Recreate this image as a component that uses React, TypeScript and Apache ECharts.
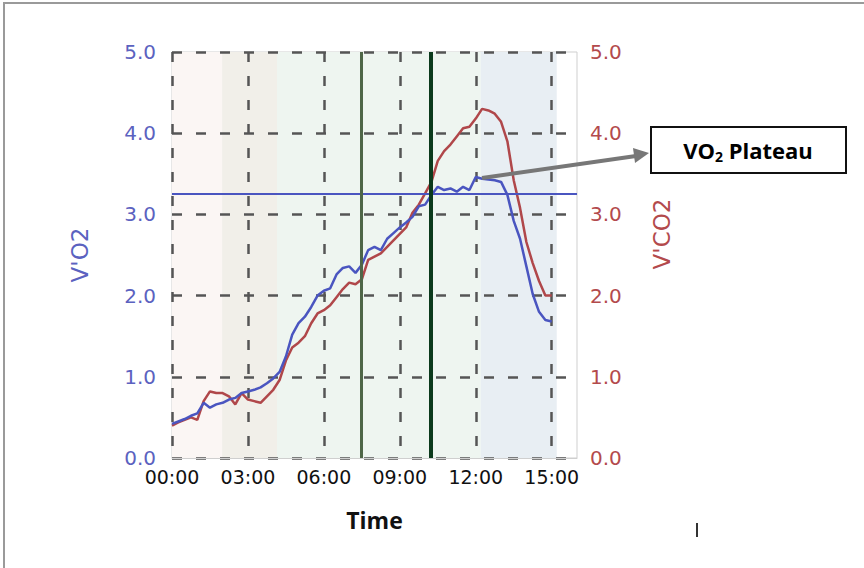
import React, { useEffect, useRef } from "react";
import * as echarts from "echarts";

// time in minutes
const times = [
  0, 0.25, 0.5, 0.75, 1, 1.25, 1.5, 1.75, 2, 2.25, 2.5, 2.75, 3, 3.25, 3.5, 3.75,
  4, 4.25, 4.5, 4.75, 5, 5.25, 5.5, 5.75, 6, 6.25, 6.5, 6.75, 7, 7.25, 7.5, 7.75,
  8, 8.25, 8.5, 8.75, 9, 9.25, 9.5, 9.75, 10, 10.25, 10.5, 10.75, 11, 11.25, 11.5, 11.75,
  12, 12.25, 12.5, 12.75, 13, 13.25, 13.5, 13.75, 14, 14.25, 14.5, 14.75, 15,
];
const vo2 = [
  0.42, 0.45, 0.48, 0.52, 0.55, 0.68, 0.62, 0.66, 0.68, 0.72, 0.74, 0.8, 0.82, 0.84, 0.87, 0.92,
  0.98, 1.06, 1.25, 1.52, 1.66, 1.74, 1.86, 2.0, 2.06, 2.09, 2.26, 2.34, 2.36, 2.28, 2.38, 2.56,
  2.6, 2.56, 2.7, 2.77, 2.84, 2.9, 2.97, 3.1, 3.12, 3.24, 3.34, 3.3, 3.32, 3.28, 3.34, 3.3,
  3.46, 3.44, 3.43, 3.42, 3.4, 3.24, 2.92, 2.7, 2.36, 2.02, 1.8, 1.7, 1.68,
];
const vco2 = [
  0.4, 0.44, 0.47, 0.5, 0.47, 0.7, 0.82, 0.8, 0.8, 0.76, 0.66, 0.8, 0.72, 0.7, 0.68, 0.76,
  0.84, 0.96, 1.2, 1.36, 1.42, 1.5, 1.66, 1.78, 1.82, 1.88, 1.98, 2.08, 2.16, 2.14, 2.2, 2.44,
  2.48, 2.52, 2.6, 2.68, 2.76, 2.84, 3.02, 3.12, 3.26, 3.4, 3.66, 3.78, 3.86, 3.96, 4.06, 4.08,
  4.18, 4.3, 4.28, 4.24, 4.14, 3.9, 3.42, 3.08, 2.66, 2.4, 2.18, 2.0, 2.0,
];
const xTickValues = [0, 3, 6, 9, 12, 15];
const xTickLabels = ["00:00", "03:00", "06:00", "09:00", "12:00", "15:00"];
const yTickLabels = ["0.0", "1.0", "2.0", "3.0", "4.0", "5.0"];
const plateauLevel = 3.26;
const thresholdTimes = [7.47, 10.24];
const phaseBounds = [0, 1.98, 4.15, 12.2, 15.2];

export default function App() {
  const ref = useRef<HTMLDivElement>(null);
  useEffect(() => {
    if (!ref.current) return;
    const chart = echarts.init(ref.current, null, { renderer: "svg" });
    const blue = "#4a55c0";
    const red = "#b0474a";
    const labelBlue = "#5b62c0";
    const labelRed = "#b34a4c";
    const dash = { color: "#555", width: 2.5, type: [10, 14] as any };
    const phaseColors = ["#fbf6f4", "#f1efe9", "#eef5f0", "#e8eef3"];
    const option: any = {
      animation: false,
      grid: { left: 172, top: 52, width: 405, height: 406, show: true, borderColor: "#cfcfcf", borderWidth: 1 },
      xAxis: {
        type: "value",
        min: 0,
        max: 16,
        interval: 3,
        z: 1.5,
        axisLine: { show: true, lineStyle: { color: "#cfcfcf" } },
        axisTick: { show: false, customValues: xTickValues },
        splitLine: { show: true, lineStyle: dash },
        axisLabel: {
          customValues: xTickValues,
          margin: 9,
          color: "#111",
          fontSize: 19,
          fontFamily: "DejaVu Sans",
          formatter: (v: number) => {
            const i = xTickValues.indexOf(v);
            return i >= 0 ? xTickLabels[i] : "";
          },
        },
        name: "Time",
        nameLocation: "middle",
        nameGap: 50,
        nameTextStyle: { fontFamily: "Open Sans", fontWeight: "bold", fontSize: 23, color: "#111" },
      },
      yAxis: [
        {
          type: "value",
          min: 0,
          max: 5,
          interval: 1,
          z: 1.5,
          axisLine: { show: false },
          axisTick: { show: false },
          splitLine: { show: true, lineStyle: dash },
          axisLabel: {
            margin: 16,
            color: labelBlue,
            fontSize: 20,
            lineHeight: 16,
            fontFamily: "DejaVu Sans",
            formatter: (v: number) => yTickLabels[Math.round(v)] ?? "",
          },
        },
        {
          type: "value",
          min: 0,
          max: 5,
          interval: 1,
          position: "right",
          z: 1.5,
          axisLine: { show: false },
          axisTick: { show: false },
          splitLine: { show: false },
          axisLabel: {
            margin: 13,
            color: labelRed,
            fontSize: 20,
            lineHeight: 16,
            fontFamily: "DejaVu Sans",
            formatter: (v: number) => yTickLabels[Math.round(v)] ?? "",
          },
        },
      ],
      series: [
        {
          type: "line",
          name: "phases",
          data: [],
          silent: true,
          markArea: {
            silent: true,
            data: phaseBounds.slice(0, -1).map((b, i) => [
              { xAxis: b, itemStyle: { color: phaseColors[i] } },
              { xAxis: phaseBounds[i + 1] },
            ]),
          },
        },
        {
          type: "line",
          name: "V'CO2",
          yAxisIndex: 1,
          showSymbol: false,
          data: times.map((t, i) => [t, vco2[i]]),
          lineStyle: { color: red, width: 2.5 },
          itemStyle: { color: red },
          z: 3,
        },
        {
          type: "line",
          name: "V'O2",
          yAxisIndex: 0,
          showSymbol: false,
          data: times.map((t, i) => [t, vo2[i]]),
          lineStyle: { color: blue, width: 2.5 },
          itemStyle: { color: blue },
          z: 4,
          markLine: {
            silent: true,
            symbol: ["none", "none"],
            label: { show: false },
            data: [
              { yAxis: plateauLevel, lineStyle: { color: blue, width: 2, type: "solid" } },
              { xAxis: thresholdTimes[0], lineStyle: { color: "#4e6647", width: 3, type: "solid" } },
              { xAxis: thresholdTimes[1], lineStyle: { color: "#0b3a1c", width: 4, type: "solid" } },
            ],
          },
        },
      ],
      graphic: [
        { type: "rect", shape: { x: 4, y: 3, width: 900, height: 700 }, style: { fill: "none", stroke: "#9a9a9a", lineWidth: 2 }, silent: true },
        {
          type: "text",
          x: 80,
          y: 255,
          rotation: Math.PI / 2,
          style: { text: "V'O2", fill: labelBlue, font: "23px 'DejaVu Sans'", align: "center", verticalAlign: "middle" },
        },
        {
          type: "text",
          x: 662,
          y: 234,
          rotation: Math.PI / 2,
          style: { text: "V'CO2", fill: labelRed, font: "23px 'DejaVu Sans'", align: "center", verticalAlign: "middle" },
        },
        { type: "line", shape: { x1: 482, y1: 178, x2: 636, y2: 156 }, style: { stroke: "#777", lineWidth: 4 }, z: 10 },
        { type: "polygon", shape: { points: [[649, 153], [633, 148], [635, 163]] }, style: { fill: "#777" }, z: 10 },
        { type: "rect", shape: { x: 651, y: 127, width: 195, height: 46 }, style: { fill: "#fff", stroke: "#111", lineWidth: 2 }, z: 10 },
        {
          type: "text",
          x: 748,
          y: 150,
          z: 11,
          style: {
            text: "{a|VO}{s|2}{a| Plateau}",
            align: "center",
            verticalAlign: "middle",
            rich: {
              a: { fontFamily: "Open Sans", fontWeight: "bold", fontSize: 22, color: "#111" },
              s: { fontFamily: "Open Sans", fontWeight: "bold", fontSize: 14, color: "#111", padding: [12, 0, 0, 0] },
            },
          },
        },
        { type: "line", shape: { x1: 697, y1: 523, x2: 697, y2: 537 }, style: { stroke: "#333", lineWidth: 2 } },
      ],
    };
    chart.setOption(option);
    return () => chart.dispose();
  }, []);
  return <div ref={ref} style={{ width: 864, height: 568, position: "absolute", left: 0, top: 0 }} />;
}
